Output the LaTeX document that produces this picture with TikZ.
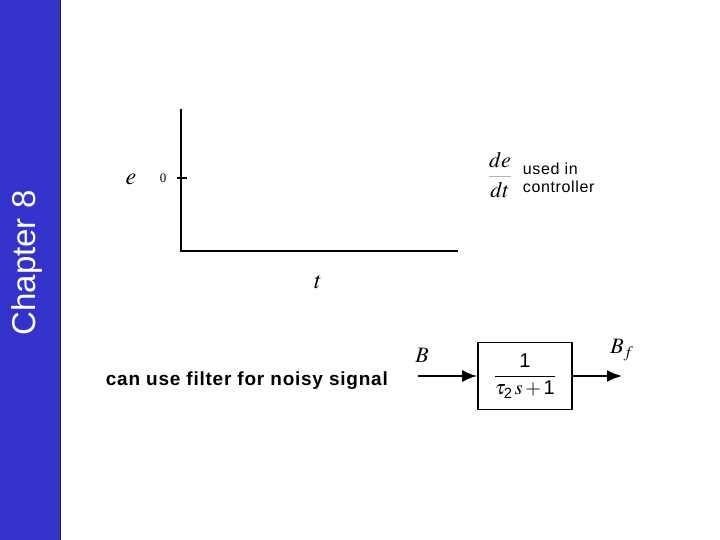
\documentclass[tikz,border=0pt]{standalone}
\usepackage{amsmath}
\usepackage{mathptmx}
\usepackage{fontspec}
\setmainfont{Liberation Serif}
\setsansfont{Liberation Sans}
\newfontfamily\notefont[LetterSpace=4]{Liberation Sans}
\usetikzlibrary{arrows.meta}
\usetikzlibrary{shapes}
\definecolor{barblue}{RGB}{51,51,204}

\begin{document}
\begin{tikzpicture}[x=1pt,y=-1pt,>={Latex[length=15pt,width=12pt]},line width=1.8pt,
                    every node/.style=  {inner sep=0pt},
                    side bar/.style=    {fill=barblue,draw=black!85,line width=1pt},
                    axis label/.style=  {font=\fontsize{22}{22}\selectfont},
                    note/.style=        {font=\notefont\fontsize{16}{18}\selectfont,align=left,anchor=west},
                    block/.style=       {draw,minimum width=94pt,minimum height=67pt}]
  \useasboundingbox (0,0) rectangle (720,540);
  % side bar
  \draw[side bar] (-1,-1) rectangle (60,541);
  \node[rotate=90,white,font=\sffamily\fontsize{33}{33}\selectfont] (chapter) at (27,263) {Chapter 8};
  % error plot
  \coordinate (origin) at (181,251);
  \coordinate (ytop) at (181,109);
  \coordinate (tend) at (458,251);
  \draw (ytop) -- (origin) -- (tend);
  \coordinate (tick) at (181,178);
  \draw ([xshift=-4pt]tick) -- ([xshift=6pt]tick);
  \node[font=\fontsize{13}{13}\selectfont] (zero) at (163,178) {0};
  \node[axis label,font=\fontsize{24}{24}\selectfont] (e) at (131,179) {$e$};
  \node[axis label,font=\fontsize{24}{24}\selectfont] (t) at (318,282) {$t$};
  % derivative
  \node[axis label] (dedt) at (500,175) {${\color{black!30}\dfrac{\color{black}de}{\color{black}dt}}$};
  \node[note] (used) at (522,178) {used in\\controller};
  % filter
  \node[note,font=\notefont\bfseries\fontsize{19}{19}\selectfont] (filtertext) at (105,381) {can use filter for noisy signal};
  \node[block,font=\fontsize{20}{20}\selectfont] (filter) at (525,376) {$\dfrac{\textsf{1}}{\tau_{\textsf{2}}\,s+\textsf{1}}$};
  \coordinate[left of=filter,node distance=107pt] (in);
  \coordinate[right of=filter,node distance=97pt] (out);
  \draw[->] (in) -- (filter);
  \draw[->] (filter) -- (out);
  \node[axis label] (B) at (422,355) {$B$};
  \node[axis label] (Bf) at (622,350) {$B_f$};
\end{tikzpicture}
\end{document}
